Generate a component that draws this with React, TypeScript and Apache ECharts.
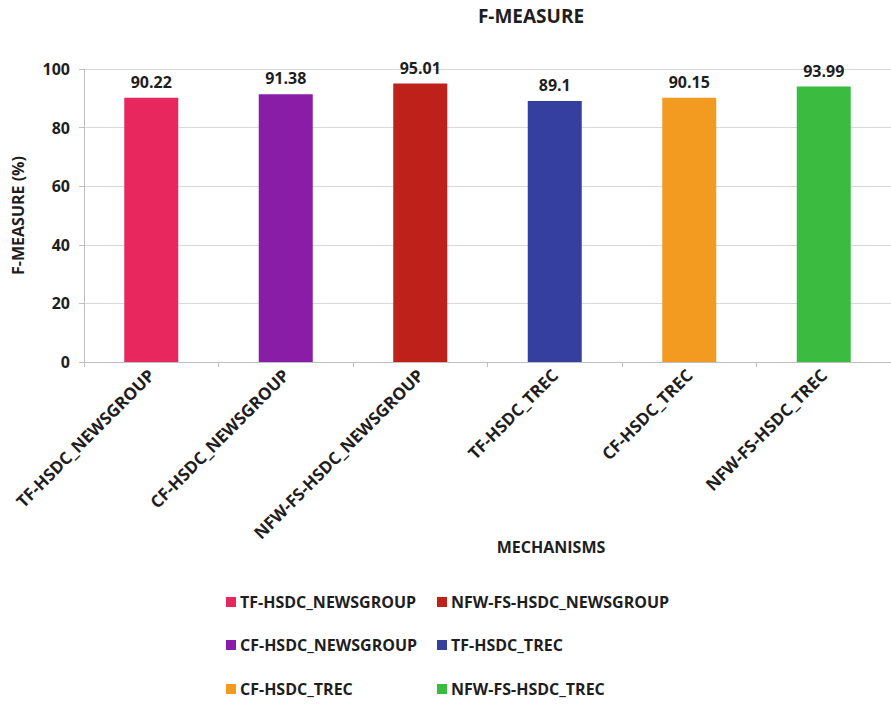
import React, { useEffect, useRef } from "react";
import * as echarts from "echarts";

const categories = [
  "TF-HSDC_NEWSGROUP",
  "CF-HSDC_NEWSGROUP",
  "NFW-FS-HSDC_NEWSGROUP",
  "TF-HSDC_TREC",
  "CF-HSDC_TREC",
  "NFW-FS-HSDC_TREC",
];
const values = [90.22, 91.38, 95.01, 89.1, 90.15, 93.99];
const colors = ["#E8275F", "#8A1DA8", "#BD2119", "#343FA0", "#F39A21", "#3BBB3F"];
const yTicks = { min: 0, max: 100, interval: 20 };
const legendLayout = [
  { left: 226, top: 592 },
  { left: 226, top: 635 },
  { left: 437, top: 592 },
  { left: 437, top: 635 },
  { left: 226, top: 679 },
  { left: 437, top: 679 },
];

const FONT = "'Open Sans'";
const TEXT = "#1e1e1e";

export default function App() {
  const ref = useRef<HTMLDivElement>(null);
  useEffect(() => {
    if (!ref.current) return;
    const chart = echarts.init(ref.current, undefined, { renderer: "svg" });
    const series = categories.map((name, i) => ({
      name,
      type: "bar" as const,
      stack: "all",
      barWidth: 54,
      itemStyle: { color: colors[i] },
      data: categories.map((_, j) => (j === i ? values[i] : "-")),
      label: {
        show: true,
        position: "top" as const,
        distance: 8,
        color: TEXT,
        fontFamily: FONT,
        fontWeight: "bold" as const,
        fontSize: 16,
        formatter: (p: any) => String(p.value),
      },
    }));
    chart.setOption({
      animation: false,
      backgroundColor: "#ffffff",
      grid: { left: 84, top: 69, width: 810, height: 293, containLabel: false },
      xAxis: {
        type: "category",
        data: categories,
        axisLine: { lineStyle: { color: "#BFBFBF" } },
        axisTick: { show: true, alignWithLabel: false, length: 5, lineStyle: { color: "#BFBFBF" } },
        axisLabel: {
          rotate: 45,
          interval: 0,
          margin: 10,
          color: TEXT,
          fontFamily: FONT,
          fontWeight: "bold",
          fontSize: 17,
        },
      },
      yAxis: {
        type: "value",
        min: yTicks.min,
        max: yTicks.max,
        interval: yTicks.interval,
        name: "F-MEASURE (%)",
        nameLocation: "middle",
        nameGap: 58,
        nameTextStyle: { fontFamily: FONT, fontWeight: "bold", fontSize: 16, color: TEXT },
        axisLine: { show: true, lineStyle: { color: "#BFBFBF" } },
        axisTick: { show: true, length: 5, lineStyle: { color: "#BFBFBF" } },
        splitLine: { lineStyle: { color: "#D9D9D9" } },
        axisLabel: { color: TEXT, fontFamily: FONT, fontWeight: "bold", fontSize: 16, margin: 14 },
      },
      legend: categories.map((name, i) => ({
        data: [name],
        left: legendLayout[i].left,
        top: legendLayout[i].top,
        icon: "rect",
        itemWidth: 10,
        itemHeight: 10,
        itemGap: 0,
        padding: 0,
        selectedMode: false,
        textStyle: {
          fontFamily: FONT,
          fontWeight: "bold",
          fontSize: 16,
          lineHeight: 20,
          color: TEXT,
          padding: [0, 0, 0, -1],
        },
      })),
      graphic: [
        {
          type: "text",
          x: 531,
          y: 16,
          style: {
            text: "F-MEASURE",
            fontFamily: FONT,
            fontWeight: "bold",
            fontSize: 19,
            fill: TEXT,
            align: "center",
            verticalAlign: "middle",
          },
        },
        {
          type: "text",
          x: 551,
          y: 547,
          style: {
            text: "MECHANISMS",
            fontFamily: FONT,
            fontWeight: "bold",
            fontSize: 16,
            fill: TEXT,
            align: "center",
            verticalAlign: "middle",
          },
        },
      ],
      series,
    });
    return () => chart.dispose();
  }, []);
  return (
    <div
      ref={ref}
      style={{ position: "fixed", left: 0, top: 0, width: 891, height: 707, background: "#fff" }}
    />
  );
}
